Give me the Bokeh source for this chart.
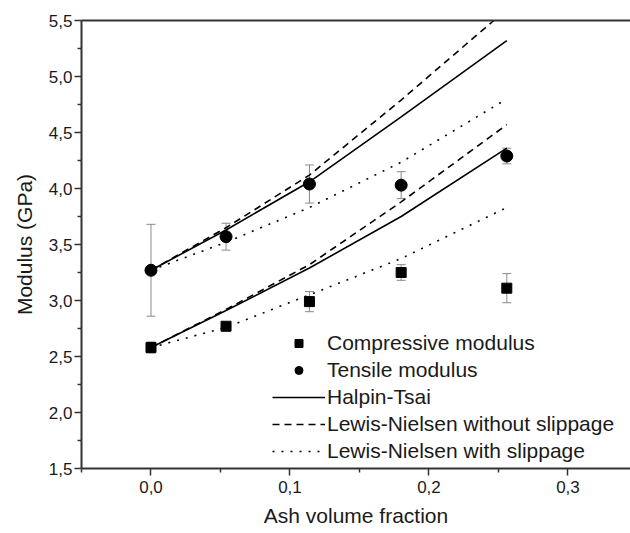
from bokeh.plotting import figure
from bokeh.models import (ColumnDataSource, Whisker, TeeHead, FixedTicker,
                          CustomJSTickFormatter, LinearAxis, Legend, LegendItem, Range1d)
from bokeh.embed import file_html
from bokeh.resources import INLINE

# ---- data ----
ash = [0.0, 0.054, 0.114, 0.180, 0.256]
compressive = [2.58, 2.77, 2.99, 3.25, 3.11]
compressive_err = [0.05, 0.02, 0.09, 0.07, 0.13]
tensile = [3.27, 3.57, 4.04, 4.03, 4.29]
tensile_err = [0.41, 0.12, 0.17, 0.12, 0.07]

halpin_tsai_tensile = [3.27, 3.63, 4.06, 4.64, 5.32]
ln_noslip_tensile = [3.27, 3.65, 4.12, 4.79, 5.60]
ln_slip_tensile = [3.27, 3.52, 3.83, 4.235, 4.80]
halpin_tsai_comp = [2.58, 2.91, 3.29, 3.75, 4.36]
ln_noslip_comp = [2.58, 2.92, 3.32, 3.88, 4.57]
ln_slip_comp = [2.58, 2.76, 3.05, 3.375, 3.83]

x_ticks = [0.0, 0.1, 0.2, 0.3]
x_minor = [-0.05, 0.05, 0.15, 0.25]
y_ticks = [1.5, 2.0, 2.5, 3.0, 3.5, 4.0, 4.5, 5.0, 5.5]
y_minor = [1.75, 2.25, 2.75, 3.25, 3.75, 4.25, 4.75, 5.25]

FONT = "Liberation Sans"
AX = "#333333"
TXT = "#1a1a1a"

p = figure(width=630, height=533, output_backend="svg", toolbar_location=None,
           x_range=Range1d(-0.05, 0.345), y_range=Range1d(1.5, 5.5),
           min_border_left=81, min_border_top=20, min_border_bottom=65, min_border_right=0)
p.grid.visible = False
p.outline_line_color = None
p.background_fill_color = "white"

fmt = CustomJSTickFormatter(code="return tick.toFixed(1).replace('.', ',');")
for ax, ticks, minor in ((p.xaxis[0], x_ticks, x_minor), (p.yaxis[0], y_ticks, y_minor)):
    ax.ticker = FixedTicker(ticks=ticks, minor_ticks=minor)
    ax.formatter = fmt
    ax.axis_line_color = AX
    ax.axis_line_width = 2
    ax.major_tick_line_color = AX
    ax.major_tick_line_width = 1.5
    ax.minor_tick_line_color = AX
    ax.minor_tick_line_width = 1.5
    ax.major_tick_out = 7
    ax.major_tick_in = 0
    ax.minor_tick_out = 4
    ax.minor_tick_in = 0
    ax.major_label_text_font = FONT
    ax.major_label_text_font_size = "17px"
    ax.major_label_text_color = TXT
    ax.axis_label_text_font = FONT
    ax.axis_label_text_font_size = "21px"
    ax.axis_label_text_font_style = "normal"
    ax.axis_label_text_color = TXT

p.xaxis.axis_label = "Ash volume fraction"
p.yaxis.axis_label = "Modulus (GPa)"
p.xaxis.major_label_standoff = 5
p.yaxis.major_label_standoff = 2
p.xaxis.axis_label_standoff = 8
p.yaxis.axis_label_standoff = 10

top = LinearAxis(ticker=FixedTicker(ticks=[]), axis_line_color=AX, axis_line_width=2,
                 major_tick_line_color=None, minor_tick_line_color=None,
                 major_label_text_font_size="0px")
p.add_layout(top, "above")

# error bars
src_c = ColumnDataSource(dict(x=ash, y=compressive,
                              lo=[v - e for v, e in zip(compressive, compressive_err)],
                              hi=[v + e for v, e in zip(compressive, compressive_err)]))
src_t = ColumnDataSource(dict(x=ash, y=tensile,
                              lo=[v - e for v, e in zip(tensile, tensile_err)],
                              hi=[v + e for v, e in zip(tensile, tensile_err)]))
for s in (src_c, src_t):
    w = Whisker(base="x", lower="lo", upper="hi", source=s, line_color="#8a8a8a", line_width=1,
                upper_head=TeeHead(size=9, line_color="#8a8a8a", line_width=1),
                lower_head=TeeHead(size=9, line_color="#8a8a8a", line_width=1),
                level="underlay")
    p.add_layout(w)

LW = 1.6
r_ht = p.line(ash, halpin_tsai_tensile, line_color="black", line_width=LW)
p.line(ash, halpin_tsai_comp, line_color="black", line_width=LW)
r_ln = p.line(ash, ln_noslip_tensile, line_color="black", line_width=LW, line_dash="7 5")
p.line(ash, ln_noslip_comp, line_color="black", line_width=LW, line_dash="7 5")
r_ls = p.line(ash, ln_slip_tensile, line_color="black", line_width=LW, line_dash="2 7")
p.line(ash, ln_slip_comp, line_color="black", line_width=LW, line_dash="2 7")

r_c = p.scatter("x", "y", source=src_c, marker="square", size=10, fill_color="black", line_color="black")
r_t = p.scatter("x", "y", source=src_t, marker="circle", size=12, fill_color="black", line_color="black")

legend = Legend(items=[
    LegendItem(label="Compressive modulus", renderers=[r_c]),
    LegendItem(label="Tensile modulus", renderers=[r_t]),
    LegendItem(label="Halpin-Tsai", renderers=[r_ht]),
    LegendItem(label="Lewis-Nielsen without slippage", renderers=[r_ln]),
    LegendItem(label="Lewis-Nielsen with slippage", renderers=[r_ls]),
], location=(191, 5), glyph_width=53, glyph_height=20, label_height=20, label_standoff=2,
    spacing=3, padding=0, margin=0, border_line_color=None, background_fill_alpha=0,
    label_text_font=FONT, label_text_font_size="21px", label_text_color=TXT)
p.add_layout(legend)

open("out.html", "w").write(file_html(p, INLINE))
